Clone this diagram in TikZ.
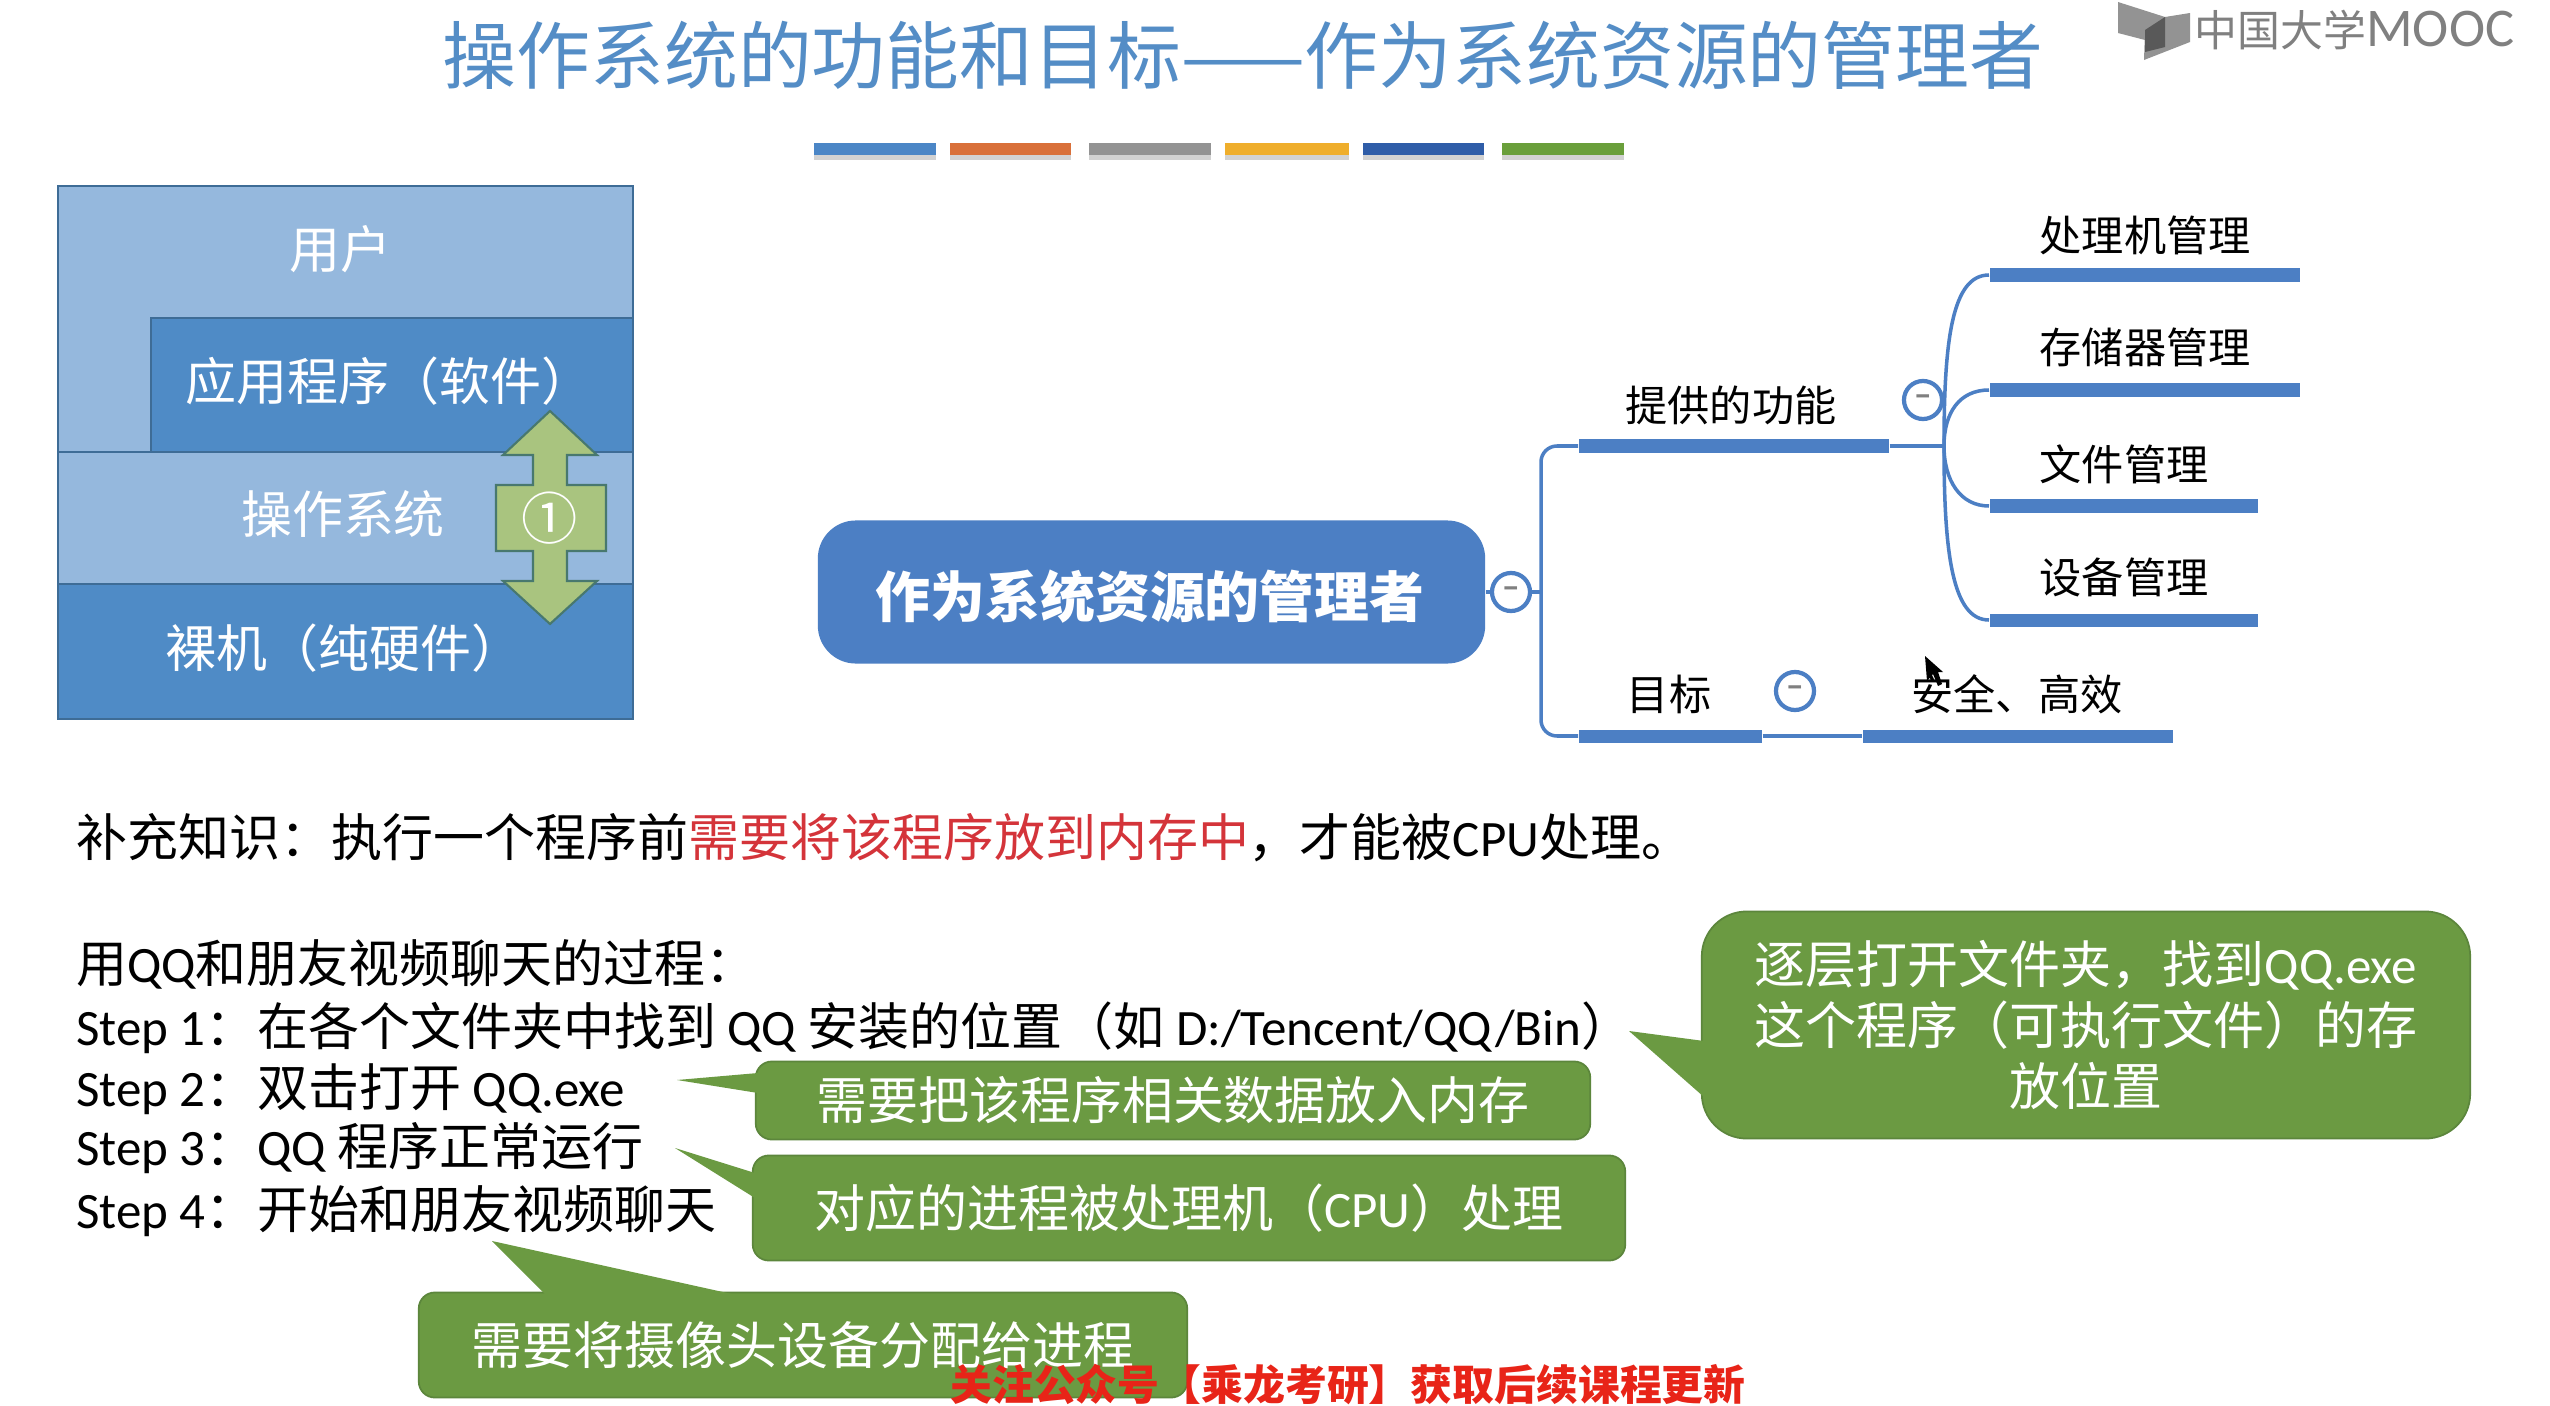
\documentclass[tikz,border=0pt]{standalone}
\usepackage{fontspec}
\setmainfont{Noto Sans CJK SC}
\newfontfamily\latinfont{Carlito}
\newcommand{\lat}[1]{{\latinfont #1}}
\usepackage{xcolor}
\usetikzlibrary{shadows}

\begin{document}
\begin{tikzpicture}[x=0.01cm,y=-0.01cm,every node/.style={font=\fontsize{14.5}{17.4}\selectfont}]
	% Define colors
	\definecolor{titleblue}{RGB}{84, 141, 198}
	\definecolor{layer_light}{RGB}{149, 184, 221}
	\definecolor{layer_dark}{RGB}{79, 139, 198}
	\definecolor{layer_edge}{RGB}{62, 108, 150}
	\definecolor{arrow_green}{RGB}{169, 196, 127}
	\definecolor{arrow_edge}{RGB}{72, 120, 110}
	\definecolor{map_blue}{RGB}{76, 127, 196}
	\definecolor{note_green}{RGB}{107, 154, 66}
	\definecolor{note_edge}{RGB}{92, 134, 60}
	\definecolor{note_red}{RGB}{212, 52, 58}
	\definecolor{footer_red}{RGB}{232, 36, 24}
	\definecolor{logo_gray}{RGB}{128, 128, 128}

	% Styles
	\tikzstyle{layer_box} = [draw=layer_edge, line width=0.5pt, text=white, anchor=north west, inner sep=0pt]
	\tikzstyle{layer_text} = [text=white]
	\tikzstyle{map_bar} = [fill=map_blue, anchor=west, minimum height=0.13cm, inner sep=0pt]
	\tikzstyle{map_text} = [font=\fontsize{12}{14}\selectfont, text=black]
	\tikzstyle{map_line} = [draw=map_blue, line width=1pt]
	\tikzstyle{map_toggle} = [circle, draw=map_blue, fill=white, line width=1.2pt, minimum size=0.38cm, inner sep=0pt, text=gray, font=\fontsize{8}{8}\selectfont\bfseries]
	\tikzstyle{note_box} = [fill=note_green, draw=note_edge, line width=0.5pt, text=white, align=center, inner sep=0pt]
	\tikzstyle{text_line} = [anchor=west, inner sep=0pt, text=black]

	\useasboundingbox (0,0) rectangle (2550,1406);
	\fill[white] (0,0) rectangle (2550,1406);

	% Title and colour strip
	\node[font=\fontsize{21}{24}\selectfont, text=titleblue] (title) at (1243,55) {操作系统的功能和目标——作为系统资源的管理者};
	\foreach \stripx/\stripw/\stripcolor in {813/122/75 134 198,949/121/217 112 58,1088/122/147 147 147,1224/124/239 174 44,1362/121/47 93 168,1501/122/106 159 59}{
		\definecolor{stripfill}{RGB}{\stripcolor}
		\node[fill=stripfill, anchor=north west, minimum width=\stripw*0.01cm, minimum height=0.12cm, inner sep=0pt, drop shadow={shadow xshift=0pt, shadow yshift=-0.05cm, opacity=0.35}] at (\stripx,142) {};
	}

	% Logo
	\fill[logo_gray!85] (2118,2) -- (2165,17) -- (2165,47) -- (2145,40) -- (2118,33) -- cycle;
	\fill[logo_gray!85] (2165,17) -- (2190,13) -- (2190,42) -- (2144,60) -- (2145,30) -- cycle;
	\fill[black!65] (2145,30) -- (2165,17) -- (2165,47) -- (2145,52) -- cycle;
	\node[anchor=west, inner sep=0pt, text=logo_gray, font=\fontsize{12.2}{14}\selectfont] (logo) at (2194,30) {中国大学{\latinfont\fontsize{15.5}{14}\selectfont MOOC}};

	% Layers (left)
	\node[layer_box, fill=layer_light, minimum width=5.75cm, minimum height=2.66cm] (user_box) at (57,185) {};
	\node[layer_box, fill=layer_dark, minimum width=4.82cm, minimum height=1.34cm] (app_box) at (150,317) {};
	\node[layer_box, fill=layer_light, minimum width=5.75cm, minimum height=1.32cm] (os_box) at (57,451) {};
	\node[layer_box, fill=layer_dark, minimum width=5.75cm, minimum height=1.35cm] (hw_box) at (57,583) {};
	\node[layer_text] (user_text) at (340,249) {用户};
	\node[layer_text] (app_text) at (389,381) {应用程序（软件）};
	\node[layer_text] (os_text) at (343,514) {操作系统};
	\node[layer_text] (hw_text) at (344,648) {裸机（纯硬件）};

	% Double arrow between layers
	\draw[fill=arrow_green, draw=arrow_edge, line width=0.6pt] (550,411) -- (597,455) -- (567,455) -- (567,485) -- (606,485) -- (606,551) -- (567,551) -- (567,581) -- (597,581) -- (550,624) -- (503,581) -- (533,581) -- (533,551) -- (496,551) -- (496,485) -- (533,485) -- (533,455) -- (503,455) -- cycle;
	\node[text=white, inner sep=0pt, font=\fontsize{16}{16}\selectfont] (arrow_mark) at (550,518) {①};

	% Mind map
	\node[fill=map_blue, rounded corners=0.38cm, minimum width=6.67cm, minimum height=1.43cm] (root) at (1151.5,592) {};
	\node[text=white, font=\fontsize{15.6}{18}\selectfont\bfseries] (root_text) at (1150,597) {作为系统资源的管理者};

	\node[map_bar, minimum width=3.10cm] (bar_func) at (1578,446) {};
	\node[map_bar, minimum width=1.83cm] (bar_goal) at (1578,736) {};
	\node[map_bar, minimum width=3.10cm] (bar_safe) at (1862,736) {};
	\node[map_bar, minimum width=3.10cm] (bar_cpu) at (1989,275) {};
	\node[map_bar, minimum width=3.10cm] (bar_mem) at (1989,390) {};
	\node[map_bar, minimum width=2.68cm] (bar_file) at (1989,506) {};
	\node[map_bar, minimum width=2.68cm] (bar_dev) at (1989,620) {};

	\coordinate (trunk_top) at (1541,446);
	\coordinate (trunk_mid) at (1541,592);
	\coordinate (trunk_bot) at (1541,736);
	\coordinate (func_fork) at (1944,446);

	\draw[map_line, rounded corners=0.16cm] (bar_func.west) -- (trunk_top) -- (trunk_bot) -- (bar_goal.west);
	\draw[map_line] (bar_goal.east) -- (bar_safe.west);
	\draw[map_line] (bar_func.east) -- (func_fork);
	\draw[map_line] (func_fork) .. controls (1944,340) and (1952,275) .. (bar_cpu.west);
	\draw[map_line] (func_fork) .. controls (1944,412) and (1960,390) .. (bar_mem.west);
	\draw[map_line] (func_fork) .. controls (1944,480) and (1960,506) .. (bar_file.west);
	\draw[map_line] (func_fork) .. controls (1944,552) and (1952,620) .. (bar_dev.west);

	\node[map_toggle] (root_toggle) at (1511,592) {\raisebox{-0.5pt}{–}};
	\node[map_toggle] (func_toggle) at (1923,400) {\raisebox{-0.5pt}{–}};
	\node[map_toggle] (goal_toggle) at (1795,691) {\raisebox{-0.5pt}{–}};
	\draw[map_line] (root.east) -- (root_toggle.west);
	\draw[map_line] (root_toggle.east) -- (trunk_mid);

	\node[map_text] (func_text) at (1731,405) {提供的功能};
	\node[map_text] (goal_text) at (1669,694) {目标};
	\node[map_text] (safe_text) at (2017,694) {安全、高效};
	\node[map_text, anchor=west, inner sep=0pt] (cpu_text) at (2039,235) {处理机管理};
	\node[map_text, anchor=west, inner sep=0pt] (mem_text) at (2039,347) {存储器管理};
	\node[map_text, anchor=west, inner sep=0pt] (file_text) at (2039,464) {文件管理};
	\node[map_text, anchor=west, inner sep=0pt] (dev_text) at (2039,577) {设备管理};

	% Mouse pointer
	\fill[black] (1925,656) -- (1927,681) -- (1933,674) -- (1938,686) -- (1942,684) -- (1938,672) -- (1943,672) -- cycle;

	% Text lines
	\node[text_line] (extra_line) at (75.5,837.5) {补充知识：执行一个程序前{\color{note_red}需要将该程序放到内存中}，才能被\lat{CPU}处理。};
	\node[text_line] (steps_head) at (75.5,964) {用\lat{QQ}和朋友视频聊天的过程：};
	\node[text_line] (step_one) at (75.5,1028) {\makebox[1.81cm][l]{\lat{Step 1}：}在各个文件夹中找到 \lat{QQ} 安装的位置（如 \lat{D:/Tencent/QQ/Bin}）};
	\node[text_line] (step_two) at (75.5,1089.5) {\makebox[1.81cm][l]{\lat{Step 2}：}双击打开 \lat{QQ.exe}};
	\node[text_line] (step_three) at (75.5,1148.5) {\makebox[1.81cm][l]{\lat{Step 3}：}\lat{QQ} 程序正常运行};
	\node[text_line] (step_four) at (75.5,1211.5) {\makebox[1.81cm][l]{\lat{Step 4}：}开始和朋友视频聊天};

	% Green notes
	\node[note_box, rounded corners=0.45cm, minimum width=7.68cm, minimum height=2.27cm] (note_path) at (2086,1025) {逐层打开文件夹，找到\lat{QQ.exe}\\这个程序（可执行文件）的存\\放位置};
	\fill[note_green] (1629,1031) -- (1704,1041) -- (1704,1097) -- cycle;

	\node[note_box, rounded corners=0.16cm, minimum width=8.34cm, minimum height=0.78cm] (note_load) at (1173,1100.5) {需要把该程序相关数据放入内存};
	\fill[note_green] (677,1080) -- (758,1073) -- (758,1093) -- cycle;

	\node[note_box, rounded corners=0.16cm, minimum width=8.72cm, minimum height=1.05cm] (note_cpu) at (1189,1208) {对应的进程被处理机（\lat{CPU}）处理};
	\fill[note_green] (675,1148) -- (755,1173) -- (755,1198) -- cycle;

	\node[note_box, rounded corners=0.16cm, minimum width=7.68cm, minimum height=1.05cm] (note_cam) at (803,1345) {需要将摄像头设备分配给进程};
	\fill[note_green] (492,1241) -- (732,1294) -- (545,1294) -- cycle;

	% Footer
	\node[text=footer_red, font=\fontsize{11.9}{14}\selectfont\bfseries] (footer) at (1348,1385) {关注公众号【乘龙考研】获取后续课程更新};
\end{tikzpicture}
\end{document}
